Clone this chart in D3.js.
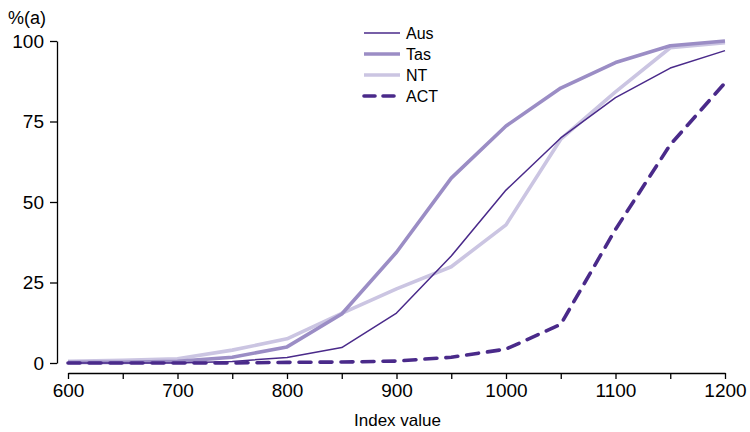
<!DOCTYPE html>
<html>
<head>
<meta charset="utf-8">
<script src="https://cdn.jsdelivr.net/npm/d3@7"></script>
<style>
  html, body { margin: 0; padding: 0; background: #fff; }
  svg { display: block; font-family: "Liberation Sans", Arial, sans-serif; }
</style>
</head>
<body>
<svg id="chart" width="750" height="432"></svg>
<script>
// Index values along the x axis
const indexValues = [600, 650, 700, 750, 800, 850, 900, 950, 1000, 1050, 1100, 1150, 1200];

// Cumulative percentage at each index value
const ausValues = [0, 0, 0, 0.5, 1.7, 4.8, 15.5, 33.2, 53.7, 69.9, 82.4, 91.6, 97.0];
const tasValues = [0.2, 0.2, 0.5, 1.8, 5.0, 15.2, 34.4, 57.4, 73.6, 85.4, 93.3, 98.5, 100];
const ntValues  = [0.5, 0.8, 1.3, 4.0, 7.5, 15.4, 23.0, 29.9, 42.9, 69.5, 84.2, 97.9, 99.5];
const actValues = [0, 0, 0, 0, 0.2, 0.3, 0.6, 1.8, 4.3, 12.0, 41.5, 67.8, 87.0];

const seriesNames = ["Aus", "Tas", "NT", "ACT"];
const yTicks = [0, 25, 50, 75, 100];
const xTicks = [600, 650, 700, 750, 800, 850, 900, 950, 1000, 1050, 1100, 1150, 1200];
const xLabelled = [600, 700, 800, 900, 1000, 1100, 1200];

const series = [
  { name: seriesNames[0], values: ausValues, color: "#4a2a8a", width: 1.5, dash: null },
  { name: seriesNames[1], values: tasValues, color: "#9b8dc5", width: 3.6, dash: null },
  { name: seriesNames[2], values: ntValues,  color: "#cbc5e2", width: 3.6, dash: null },
  { name: seriesNames[3], values: actValues, color: "#4a2a8a", width: 3.6, dash: "12,9" }
];

const svg = d3.select("#chart");

const x = d3.scaleLinear().domain([600, 1200]).range([68, 725]);
const y = d3.scaleLinear().domain([0, 100]).range([363, 41]);

const fontSize = 19;

// y axis
const yAxis = svg.append("g")
  .attr("transform", "translate(57,0)")
  .call(d3.axisLeft(y).tickValues(yTicks).tickSize(7).tickSizeOuter(0).tickPadding(6));
yAxis.select(".domain").attr("stroke", "#000").attr("stroke-width", 1.3);
yAxis.selectAll(".tick line").attr("stroke", "#000").attr("stroke-width", 1.3);
yAxis.selectAll(".tick text")
  .attr("font-size", fontSize)
  .attr("font-family", "Liberation Sans, Arial, sans-serif")
  .attr("fill", "#000");

// x axis
const xAxis = svg.append("g")
  .attr("transform", "translate(0,373)")
  .call(d3.axisBottom(x).tickValues(xTicks).tickSize(6).tickSizeOuter(0).tickPadding(5)
    .tickFormat(d => xLabelled.includes(d) ? d : ""));
xAxis.select(".domain").attr("stroke", "#000").attr("stroke-width", 1.3);
xAxis.selectAll(".tick line").attr("stroke", "#000").attr("stroke-width", 1.3);
xAxis.selectAll(".tick text")
  .attr("font-size", fontSize)
  .attr("font-family", "Liberation Sans, Arial, sans-serif")
  .attr("fill", "#000");

// axis titles
svg.append("text")
  .attr("x", 8).attr("y", 24)
  .attr("font-size", 18)
  .attr("fill", "#000")
  .text("%(a)");

svg.append("text")
  .attr("x", (x(600) + x(1200)) / 2 + 1).attr("y", 426)
  .attr("text-anchor", "middle")
  .attr("font-size", 17)
  .attr("fill", "#000")
  .text("Index value");

// lines, drawn back to front
const line = d3.line()
  .x((d, i) => x(indexValues[i]))
  .y(d => y(d));

const drawOrder = [2, 1, 0, 3];
drawOrder.forEach(k => {
  const s = series[k];
  svg.append("path")
    .datum(s.values)
    .attr("fill", "none")
    .attr("stroke", s.color)
    .attr("stroke-width", s.width)
    .attr("stroke-linejoin", "round")
    .attr("stroke-linecap", s.dash ? "round" : "butt")
    .attr("stroke-dasharray", s.dash)
    .attr("d", line);
});

// legend
const legend = svg.append("g");
series.forEach((s, i) => {
  const ly = 33 + i * 21;
  legend.append("line")
    .attr("x1", 364).attr("x2", 400)
    .attr("y1", ly).attr("y2", ly)
    .attr("stroke", s.color)
    .attr("stroke-width", s.width)
    .attr("stroke-linecap", s.dash ? "round" : "butt")
    .attr("stroke-dasharray", s.dash ? "11,8" : null);
  legend.append("text")
    .attr("x", 406).attr("y", ly + 6)
    .attr("font-size", 16)
    .attr("fill", "#000")
    .text(s.name);
});
</script>
</body>
</html>
